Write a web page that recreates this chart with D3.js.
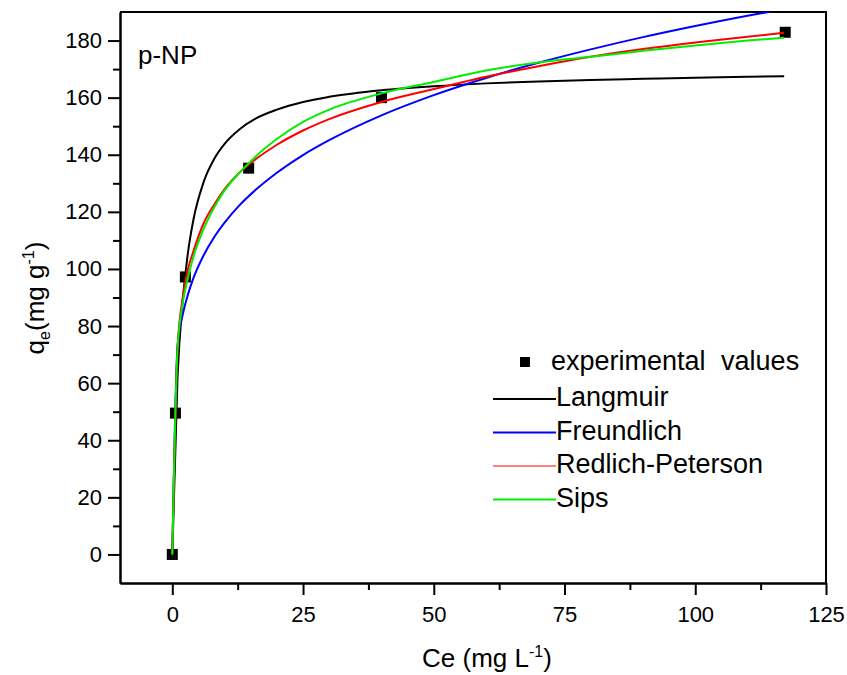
<!DOCTYPE html>
<html>
<head>
<meta charset="utf-8">
<script src="https://cdn.jsdelivr.net/npm/d3@7"></script>
<style>
  body { margin: 0; background: #fff; }
  text { font-family: "Liberation Sans", Arial, sans-serif; fill: #000; }
</style>
</head>
<body>
<svg id="chart" width="847" height="675"></svg>
<script>
//experimental points (Ce, qe)
const expCe = [0, 0.6, 2.5, 14.6, 40, 117.2];
const expQe = [0, 49.5, 97.2, 135.3, 160, 182.9];

const curveCe = [0, 1, 2, 3, 4, 6, 8, 10, 13, 16, 20, 25, 30, 40, 50, 60, 70, 80, 90, 100, 110, 117];
const langmuirQ = [0, 62, 89, 105.8, 116.9, 130.5, 138.5, 143.8, 149.1, 152.7, 155.8, 158.5, 160.3, 162.6, 164, 165, 165.7, 166.2, 166.6, 167, 167.3, 167.5];
const freundlichQ = [0, 73, 84, 91.1, 96.6, 104.8, 111.1, 116.2, 122.6, 127.8, 133.7, 139.9, 145.1, 153.8, 160.9, 166.9, 172.2, 176.9, 181.2, 185.1, 188.7, 191];
const redlichQ = [0, 72, 90, 100, 106, 116, 122.5, 128, 134, 138.5, 143.5, 148.5, 152.5, 158.5, 163, 167.3, 171, 174.3, 177, 179.3, 181.3, 182.7];
const sipsQ = [0, 72, 88, 97, 104, 114, 121.5, 127.5, 134, 139.5, 145.5, 151.5, 155.8, 161.5, 165.5, 169.5, 172.3, 174.3, 176.4, 178.3, 180, 181];

const seriesNames = ["Langmuir", "Freundlich", "Redlich-Peterson", "Sips"];
const seriesColors = ["#000000", "#0000ff", "#ff0000", "#00ee00"];
const seriesWidths = [2, 2, 2, 2];
const legendWidths = [2, 2, 1, 2];
const seriesValues = [langmuirQ, freundlichQ, redlichQ, sipsQ];

const xMajor = [0, 25, 50, 75, 100, 125];
const xMinor = [12.5, 37.5, 62.5, 87.5, 112.5];
const yMajor = [0, 20, 40, 60, 80, 100, 120, 140, 160, 180];
const yMinor = [10, 30, 50, 70, 90, 110, 130, 150, 170];

const svg = d3.select("#chart");

//plot area
const plotL = 120, plotR = 826, plotT = 12, plotB = 583;
const x = d3.scaleLinear().domain([-10, 125]).range([plotL, plotR]);
const y = d3.scaleLinear().domain([-10, 190]).range([plotB, plotT]);

//clip for curves
svg.append("clipPath").attr("id", "plotClip")
    .append("rect")
    .attr("x", plotL).attr("y", plotT)
    .attr("width", plotR - plotL).attr("height", plotB - plotT);

//axes with outward ticks
function styleAxis(g) {
    g.select(".domain").attr("stroke-width", 2);
    g.selectAll(".tick line").attr("stroke-width", 2);
}
svg.append("g")
    .attr("transform", `translate(0,${plotB})`)
    .call(d3.axisBottom(x).tickValues(xMinor).tickSize(7).tickFormat("").tickSizeOuter(0))
    .call(styleAxis);
svg.append("g")
    .attr("transform", `translate(0,${plotB})`)
    .call(d3.axisBottom(x).tickValues(xMajor).tickSize(12).tickPadding(11).tickSizeOuter(0))
    .call(styleAxis)
    .selectAll("text").style("font-size", "22px");
svg.append("g")
    .attr("transform", `translate(${plotL},0)`)
    .call(d3.axisLeft(y).tickValues(yMinor).tickSize(7).tickFormat("").tickSizeOuter(0))
    .call(styleAxis);
svg.append("g")
    .attr("transform", `translate(${plotL},0)`)
    .call(d3.axisLeft(y).tickValues(yMajor).tickSize(12).tickPadding(6).tickSizeOuter(0))
    .call(styleAxis)
    .selectAll("text").style("font-size", "22px");

//top and right frame
svg.append("path")
    .attr("d", `M${plotL},${plotT}H${plotR}V${plotB}`)
    .attr("fill", "none").attr("stroke", "#000").attr("stroke-width", 2);

//experimental squares
const sq = 11;
svg.selectAll("rect.pt")
    .data(expCe.map((c, i) => ({ c: c, q: expQe[i] })))
    .join("rect")
    .attr("class", "pt")
    .attr("x", d => x(d.c) - sq / 2)
    .attr("y", d => y(d.q) - sq / 2)
    .attr("width", sq).attr("height", sq)
    .attr("fill", "#000");

//model curves
const line = d3.line()
    .x(d => x(d[0]))
    .y(d => y(d[1]))
    .curve(d3.curveMonotoneX);
const curves = svg.append("g").attr("clip-path", "url(#plotClip)");
seriesValues.forEach((vals, i) => {
    curves.append("path")
        .datum(curveCe.map((c, j) => [c, vals[j]]))
        .attr("d", line)
        .attr("fill", "none")
        .attr("stroke", seriesColors[i])
        .attr("stroke-width", seriesWidths[i]);
});

//panel label
svg.append("text")
    .attr("x", 138).attr("y", 64)
    .style("font-size", "26px")
    .text("p-NP");

//legend
const lg = svg.append("g");
lg.append("rect")
    .attr("x", 520).attr("y", 357).attr("width", 10).attr("height", 10)
    .attr("fill", "#000");
lg.append("text")
    .attr("x", 551).attr("y", 370)
    .style("font-size", "27px")
    .style("word-spacing", "8px")
    .text("experimental values");
seriesNames.forEach((name, i) => {
    const yy = 406 + i * 33.5;
    lg.append("line")
        .attr("x1", 493).attr("x2", 556)
        .attr("y1", yy - 7).attr("y2", yy - 7)
        .attr("stroke", seriesColors[i])
        .attr("stroke-width", legendWidths[i]);
    lg.append("text")
        .attr("x", 556).attr("y", yy)
        .style("font-size", "27px")
        .text(name);
});

//axis titles
const xt = svg.append("text")
    .attr("x", 487).attr("y", 667)
    .attr("text-anchor", "middle")
    .style("font-size", "26px");
xt.append("tspan").text("Ce (mg L");
xt.append("tspan").attr("dy", -10).style("font-size", "16px").text("-1");
xt.append("tspan").attr("dy", 10).text(")");

const yt = svg.append("text")
    .attr("transform", "translate(44,298) rotate(-90)")
    .attr("text-anchor", "middle")
    .style("font-size", "26px");
yt.append("tspan").text("q");
yt.append("tspan").attr("dy", 6).style("font-size", "16px").text("e");
yt.append("tspan").attr("dy", -6).text("(mg g");
yt.append("tspan").attr("dy", -10).style("font-size", "16px").text("-1");
yt.append("tspan").attr("dy", 10).text(")");
</script>
</body>
</html>
